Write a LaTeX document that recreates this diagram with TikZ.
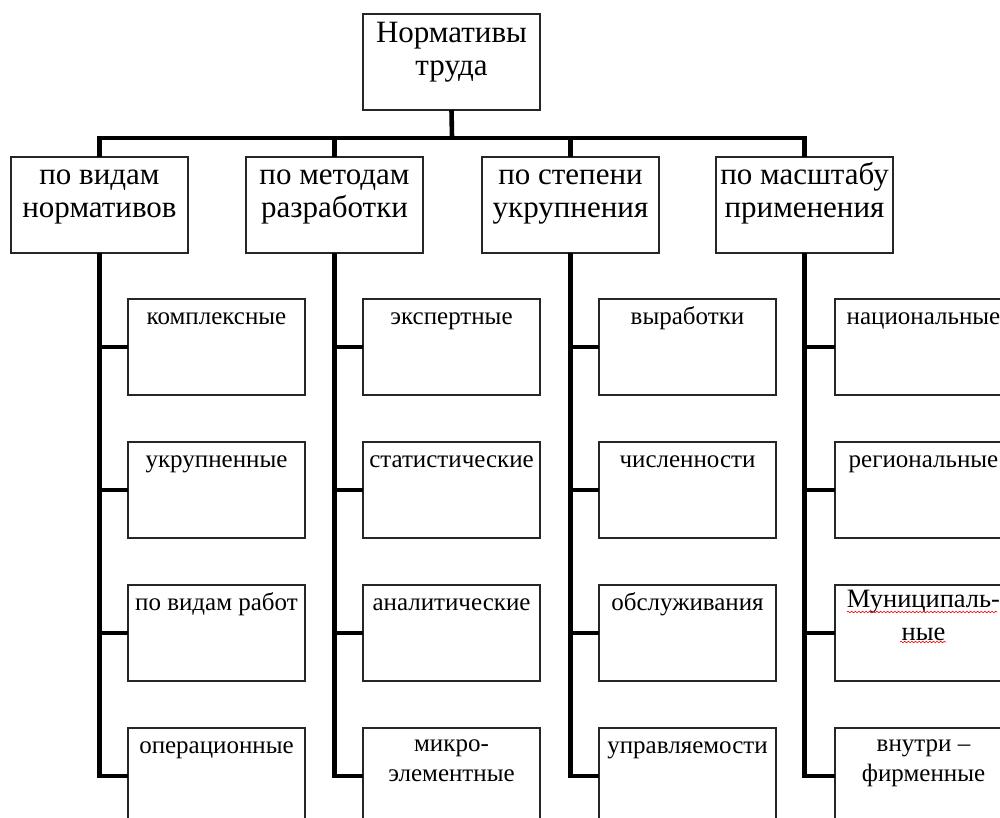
\documentclass[tikz,border=0pt]{standalone}
\usepackage{fontspec}
\setmainfont{Liberation Serif}
\usetikzlibrary{decorations.pathmorphing}
\newcommand\cl[1]{\makebox[0pt]{#1}}
\newcommand\lines[4]{\parbox[t][96pt][t]{177pt}{\centering\fontsize{#1}{#2}\selectfont\rule{0pt}{#3}#4\par}}
\newcommand\hd[1]{\lines{31}{33}{28pt}{#1}}
\newcommand\ch[1]{\lines{25}{30}{25pt}{#1}}
\newcommand\chh[1]{\lines{25}{30}{23pt}{#1}}
\tikzset{
  box/.style={draw=black!85, line width=1.4pt, inner sep=0pt, outer sep=0pt, anchor=north west},
  conn/.style={line width=4.6pt, line join=miter},
  spell/.style={draw=red, line width=0.6pt, decorate, decoration={snake, amplitude=0.8pt, segment length=3.6pt}}
}
\begin{document}
\begin{tikzpicture}[x=1pt, y=-1pt]
\useasboundingbox (0,0) rectangle (1000,818);
\clip (0,0) rectangle (1000,818);
\fill[white] (0,0) rectangle (1000,818);
% top
\node[box] (top) at (363,14) {\lines{31}{33}{29pt}{\cl{Нормативы}\\\cl{труда}}};
% headings
\node[box] (h1) at (11,157) {\hd{\cl{по видам}\\\cl{нормативов}}};
\node[box] (h2) at (246,157) {\hd{\cl{по методам}\\\cl{разработки}}};
\node[box] (h3) at (482,157) {\hd{\cl{по степени}\\\cl{укрупнения}}};
\node[box] (h4) at (716,157) {\hd{\cl{по масштабу}\\\cl{применения}}};
% column 1
\node[box] (c11) at (128,299) {\ch{\cl{комплексные}}};
\node[box] (c12) at (128,442) {\ch{\cl{укрупненные}}};
\node[box] (c13) at (128,585) {\ch{\cl{по видам работ}}};
\node[box] (c14) at (128,728) {\ch{\cl{операционные}}};
% column 2
\node[box] (c21) at (363,299) {\ch{\cl{экспертные}}};
\node[box] (c22) at (363,442) {\ch{\cl{статистические}}};
\node[box] (c23) at (363,585) {\ch{\cl{аналитические}}};
\node[box] (c24) at (363,728) {\chh{\cl{микро-}\\\cl{элементные}}};
% column 3
\node[box] (c31) at (599,299) {\ch{\cl{выработки}}};
\node[box] (c32) at (599,442) {\ch{\cl{численности}}};
\node[box] (c33) at (599,585) {\ch{\cl{обслуживания}}};
\node[box] (c34) at (599,728) {\ch{\cl{управляемости}}};
% column 4
\node[box] (c41) at (835,299) {\ch{\cl{национальные}}};
\node[box] (c42) at (835,442) {\ch{\cl{региональные}}};
\node[box] (c43) at (835,585) {\lines{26.5}{33}{22pt}{\cl{Муниципаль-}\\\cl{ные}}};
\node[box] (c44) at (835,728) {\chh{\cl{внутри –}\\\cl{фирменные}}};
% bus
\coordinate (bus) at (452,138);
\draw[conn] (top.south) -- (bus);
\foreach \h in {h1,h2,h3,h4} \draw[conn] (\h.north) |- (bus);
% spines
\foreach \c in {1,2,3,4} {
  \draw[conn] (h\c.south) |- (c\c4.west);
  \foreach \r in {1,2,3} \draw[conn] (c\c\r.west) -- (c\c\r.west -| h\c.south);
}
% spell-check marks
\draw[spell] (847,612) -- (997,612);
\draw[spell] (900,642) -- (946,642);
\end{tikzpicture}
\end{document}
